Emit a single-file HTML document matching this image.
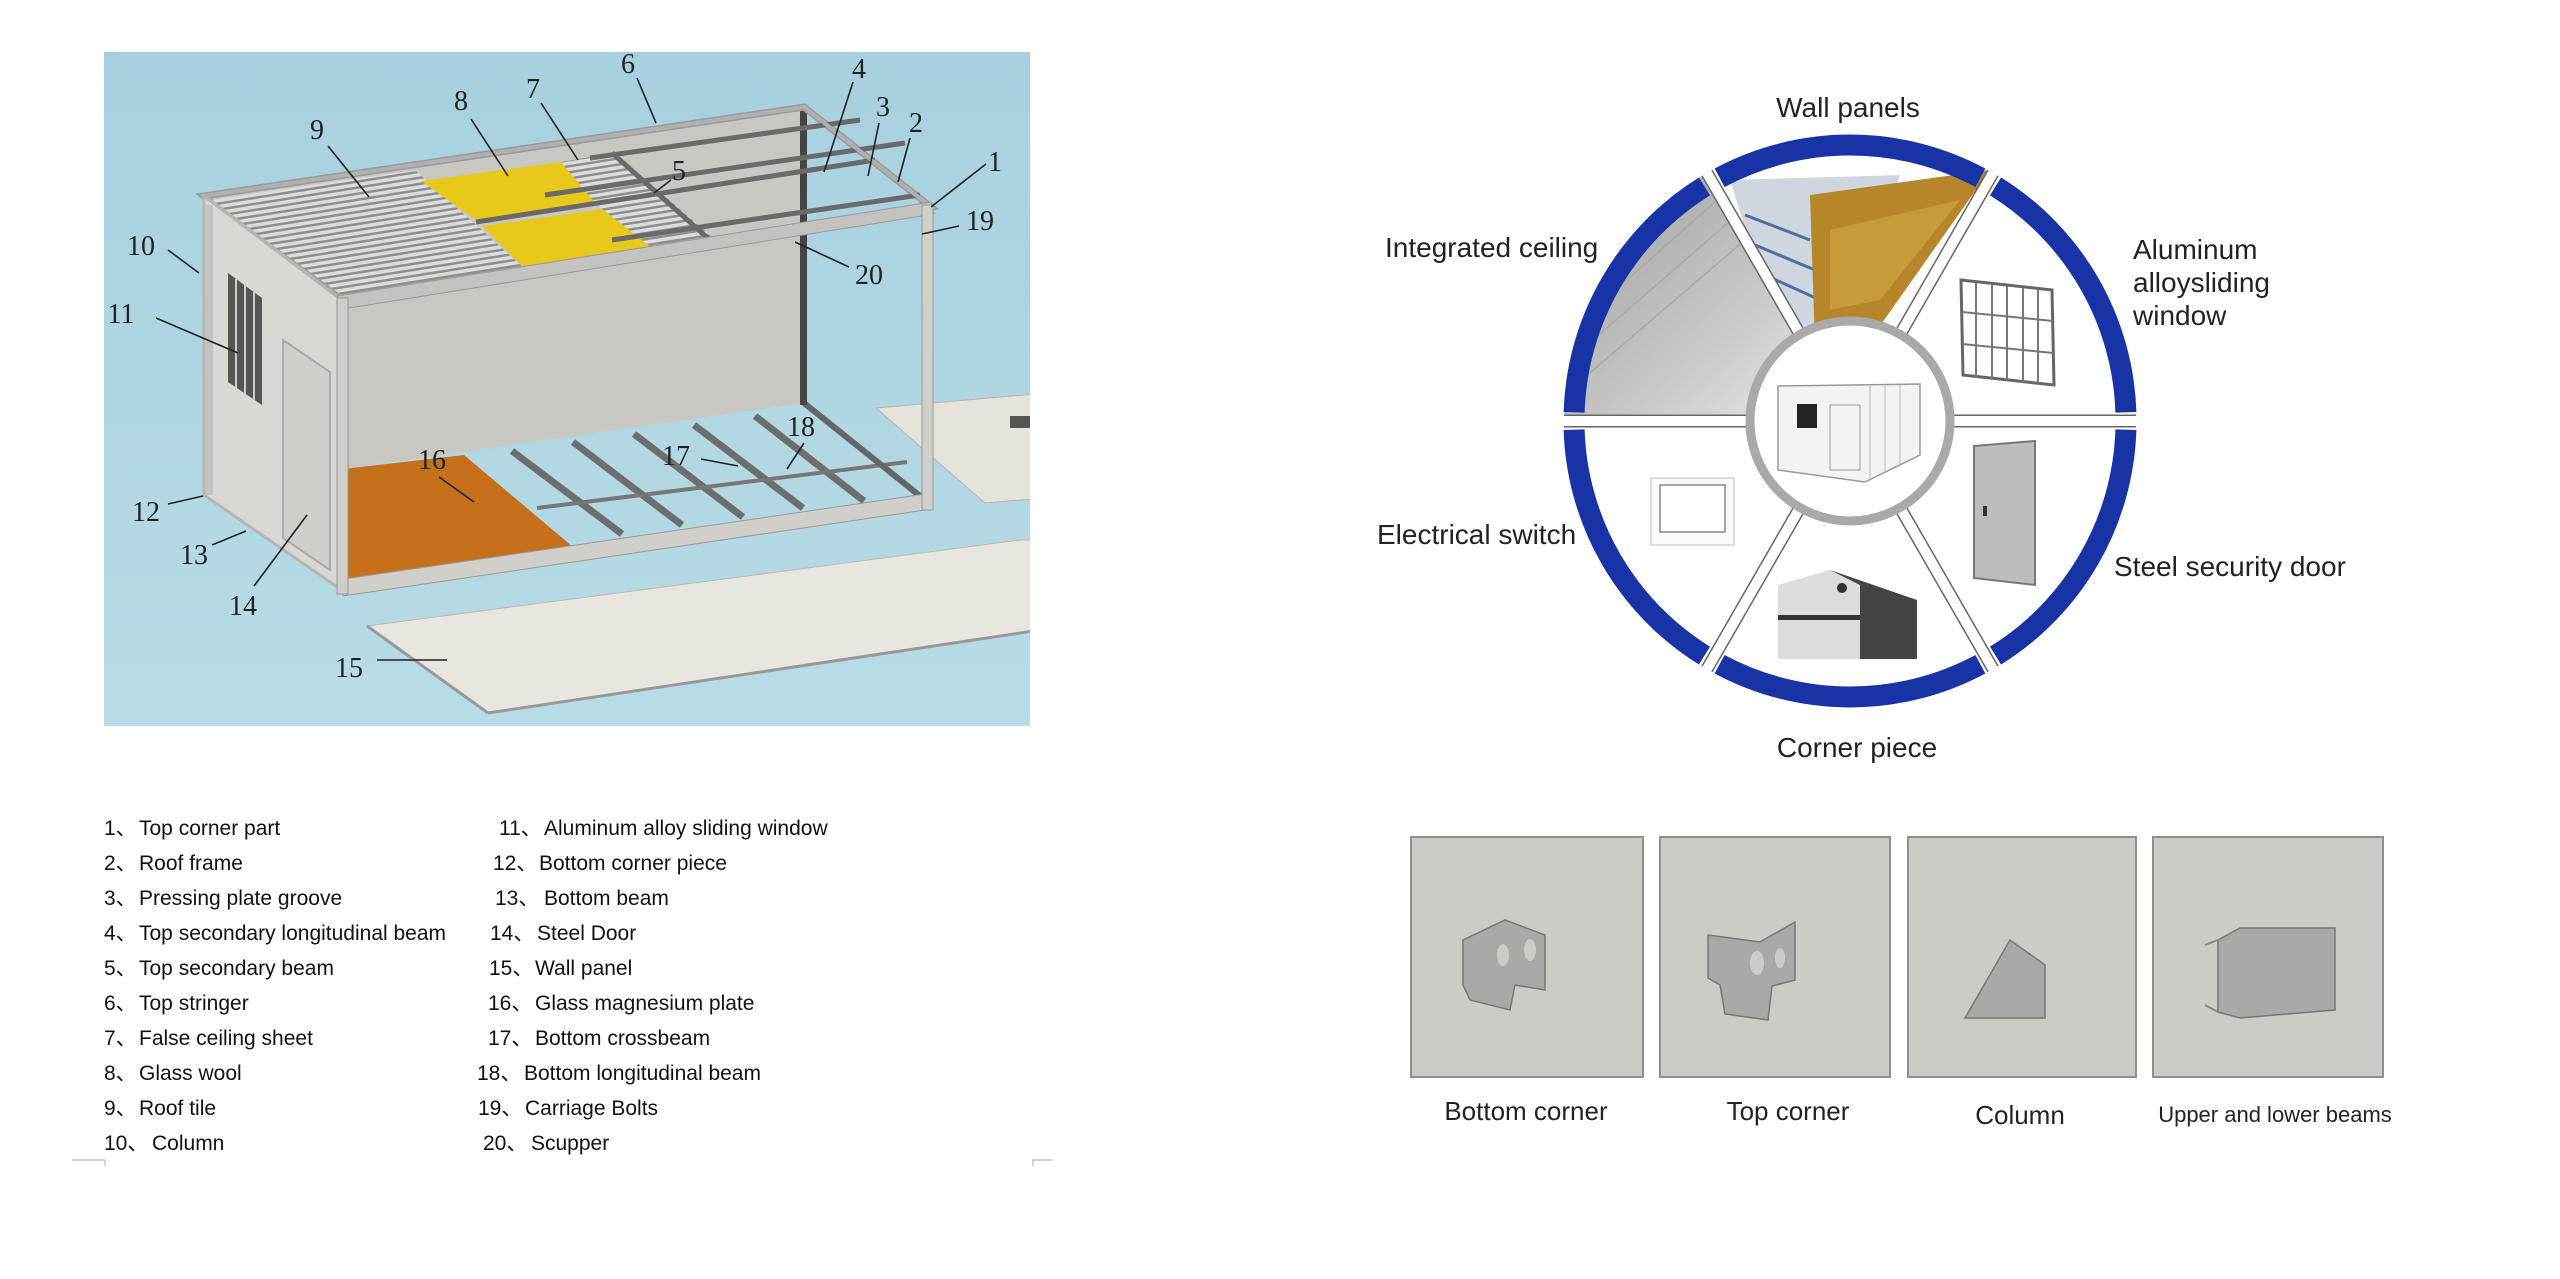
<!DOCTYPE html>
<html><head><meta charset="utf-8"><style>
html,body{margin:0;padding:0;background:#fff;}
svg{display:block}
.lg{font-family:"Liberation Sans","Noto Sans CJK SC",sans-serif;font-size:21px;fill:#111}
.num{font-family:"Liberation Serif",serif;font-size:28px;fill:#222}
.rl{font-family:"Liberation Sans",sans-serif;font-size:28px;fill:#222}
</style></head><body>
<svg width="2560" height="1279" viewBox="0 0 2560 1279" xmlns="http://www.w3.org/2000/svg">
<defs>
<linearGradient id="bg" x1="0" y1="0" x2="0" y2="1"><stop offset="0" stop-color="#a7d0df"/><stop offset="1" stop-color="#b9dce6"/></linearGradient>
<linearGradient id="ceil" x1="0" y1="0" x2="1" y2="1"><stop offset="0" stop-color="#9a9a9a"/><stop offset="0.6" stop-color="#c9c9c9"/><stop offset="1" stop-color="#efefef"/></linearGradient>
<pattern id="corr" width="6" height="6" patternUnits="userSpaceOnUse" patternTransform="rotate(-9)"><rect width="6" height="6" fill="#dcdcdc"/><rect width="6" height="2.5" fill="#8f8f8f"/></pattern>
<clipPath id="photo"><rect x="104" y="52" width="926" height="674"/></clipPath>
</defs>

<!-- LEFT PHOTO -->
<rect x="104" y="52" width="926" height="674" fill="url(#bg)"/>
<g clip-path="url(#photo)">
 <polygon points="876,408 1034,394 1034,499 985,503" fill="#e6e3da" stroke="#b8b5ad"/>
 <rect x="1010" y="416" width="24" height="12" fill="#555"/>
 <polygon points="367,626 1020,540 1040,540 1040,630 488,713" fill="#e8e6de" stroke="#bdbab2"/>
 <line x1="367" y1="626" x2="488" y2="713" stroke="#999" stroke-width="3"/>
 <line x1="488" y1="713" x2="1040" y2="630" stroke="#999" stroke-width="3"/>
</g>
<polygon points="204,196 804,107 804,403 343,469 343,301" fill="#c9c7c1"/>
<polygon points="464,455 804,403 925,500 573,547" fill="#b4d8e3"/>
<g stroke="#6e6e6e" stroke-width="7">
 <line x1="512" y1="451" x2="622" y2="534"/><line x1="573" y1="442" x2="682" y2="525"/>
 <line x1="634" y1="434" x2="743" y2="517"/><line x1="694" y1="425" x2="803" y2="508"/>
 <line x1="755" y1="416" x2="864" y2="501"/>
</g>
<line x1="537" y1="508" x2="907" y2="462" stroke="#777" stroke-width="4"/>
<line x1="804" y1="403" x2="925" y2="500" stroke="#666" stroke-width="6"/>
<polygon points="343,469 464,455 573,547 343,585" fill="#c7701c"/>
<rect x="800" y="107" width="7" height="298" fill="#444"/>
<polygon points="204,196 804,107 931,207 343,301" fill="none" stroke="#9a9a9a" stroke-width="7"/>
<polygon points="210,200 415,170 524,268 343,296" fill="url(#corr)"/>
<polygon points="421,181 561,162 597,205 476,220" fill="#e8c81a"/>
<polygon points="482,226 603,209 652,248 524,268" fill="#e8c81a"/>
<polygon points="561,162 615,153 712,237 652,248 597,205" fill="url(#corr)"/>
<g stroke="#6a6a6a" stroke-width="5">
 <line x1="476" y1="222" x2="875" y2="160"/>
 <line x1="545" y1="195" x2="905" y2="143"/>
 <line x1="612" y1="240" x2="920" y2="195"/>
 <line x1="590" y1="158" x2="860" y2="120"/>
 <line x1="612" y1="153" x2="710" y2="240"/>
</g>
<polygon points="204,196 804,107 931,207 343,301" fill="none" stroke="#b0b0b0" stroke-width="4"/>
<polygon points="204,196 343,301 343,591 204,495" fill="#d9d8d3" stroke="#b5b5b5" stroke-width="3"/>
<rect x="205" y="205" width="8" height="290" fill="#c3c3c0"/>
<polygon points="228,273 262,298 262,405 228,382" fill="#555"/>
<g stroke="#ccc" stroke-width="2"><line x1="236" y1="279" x2="236" y2="388"/><line x1="245" y1="285" x2="245" y2="394"/><line x1="254" y1="292" x2="254" y2="400"/></g>
<polygon points="283,340 330,372 330,570 283,538" fill="#d0cfca" stroke="#aaa" stroke-width="2"/>
<polygon points="337,296 931,202 934,214 343,309" fill="#c4c3bf" stroke="#999"/>
<polygon points="337,580 925,494 925,510 343,596" fill="#d0cfca" stroke="#999"/>
<rect x="337" y="298" width="11" height="296" fill="#cfcdc8" stroke="#999"/>
<rect x="922" y="205" width="11" height="305" fill="#d0cfca" stroke="#999"/>
<g stroke="#222" stroke-width="1.6">
<line x1="637" y1="78" x2="656" y2="123"/><line x1="853" y1="82" x2="824" y2="172"/>
<line x1="879" y1="123" x2="868" y2="176"/><line x1="910" y1="138" x2="898" y2="182"/>
<line x1="986" y1="164" x2="931" y2="207"/><line x1="959" y1="226" x2="922" y2="234"/>
<line x1="849" y1="267" x2="795" y2="242"/><line x1="671" y1="180" x2="654" y2="193"/>
<line x1="541" y1="103" x2="578" y2="160"/><line x1="471" y1="119" x2="508" y2="176"/>
<line x1="328" y1="146" x2="369" y2="197"/><line x1="168" y1="250" x2="199" y2="273"/>
<line x1="156" y1="318" x2="238" y2="353"/><line x1="168" y1="504" x2="203" y2="496"/>
<line x1="212" y1="545" x2="246" y2="531"/><line x1="254" y1="586" x2="307" y2="515"/>
<line x1="377" y1="660" x2="447" y2="660"/><line x1="439" y1="477" x2="474" y2="502"/>
<line x1="701" y1="459" x2="738" y2="466"/><line x1="804" y1="443" x2="787" y2="469"/>
</g>
<g class="num" text-anchor="middle">
<text x="628" y="73">6</text><text x="859" y="78">4</text><text x="883" y="116">3</text><text x="916" y="132">2</text>
<text x="995" y="171">1</text><text x="980" y="230">19</text><text x="869" y="284">20</text><text x="679" y="180">5</text>
<text x="533" y="98">7</text><text x="461" y="110">8</text><text x="317" y="139">9</text><text x="141" y="255">10</text>
<text x="121" y="323">11</text><text x="146" y="521">12</text><text x="194" y="564">13</text><text x="243" y="615">14</text>
<text x="349" y="677">15</text><text x="432" y="469">16</text><text x="676" y="465">17</text><text x="801" y="436">18</text>
</g>

<g class="lg">
<text x="104" y="835">1、</text><text x="139" y="835">Top corner part</text>
<text x="104" y="870">2、</text><text x="139" y="870">Roof frame</text>
<text x="104" y="905">3、</text><text x="139" y="905">Pressing plate groove</text>
<text x="104" y="940">4、</text><text x="139" y="940">Top secondary longitudinal beam</text>
<text x="104" y="975">5、</text><text x="139" y="975">Top secondary beam</text>
<text x="104" y="1010">6、</text><text x="139" y="1010">Top stringer</text>
<text x="104" y="1045">7、</text><text x="139" y="1045">False ceiling sheet</text>
<text x="104" y="1080">8、</text><text x="139" y="1080">Glass wool</text>
<text x="104" y="1115">9、</text><text x="139" y="1115">Roof tile</text>
<text x="104" y="1150">10、</text><text x="152" y="1150">Column</text>
<text x="499" y="835">11、</text><text x="544" y="835">Aluminum alloy sliding window</text>
<text x="493" y="870">12、</text><text x="539" y="870">Bottom corner piece</text>
<text x="495" y="905">13、</text><text x="544" y="905">Bottom beam</text>
<text x="490" y="940">14、</text><text x="537" y="940">Steel Door</text>
<text x="489" y="975">15、</text><text x="535" y="975">Wall panel</text>
<text x="488" y="1010">16、</text><text x="535" y="1010">Glass magnesium plate</text>
<text x="488" y="1045">17、</text><text x="535" y="1045">Bottom crossbeam</text>
<text x="477" y="1080">18、</text><text x="524" y="1080">Bottom longitudinal beam</text>
<text x="478" y="1115">19、</text><text x="525" y="1115">Carriage Bolts</text>
<text x="483" y="1150">20、</text><text x="531" y="1150">Scupper</text>
</g>
<g stroke="#bbb" stroke-width="1.2" fill="none">
<polyline points="72,1160 105,1160 105,1166"/><polyline points="1033,1166 1033,1160 1053,1160"/>
</g>

<defs>
<clipPath id="sUL"><path d="M1850,421 L1564,421 A286,286 0 0 1 1707,173 Z"/></clipPath>
<clipPath id="sT"><path d="M1850,421 L1707,173 A286,286 0 0 1 1993,173 Z"/></clipPath>
</defs>
<g clip-path="url(#sUL)">
 <rect x="1564" y="150" width="290" height="275" fill="url(#ceil)"/>
 <g stroke="#aaa" stroke-width="1.5">
  <line x1="1570" y1="300" x2="1720" y2="170"/><line x1="1570" y1="330" x2="1740" y2="180"/>
  <line x1="1570" y1="360" x2="1760" y2="195"/><line x1="1570" y1="390" x2="1780" y2="210"/>
 </g>
</g>
<g clip-path="url(#sT)">
 <rect x="1700" y="140" width="300" height="285" fill="#fff"/>
 <polygon points="1730,180 1900,175 1850,330 1780,340" fill="#cfd6df"/>
 <g stroke="#4a6fa0" stroke-width="3"><line x1="1745" y1="215" x2="1810" y2="240"/><line x1="1755" y1="245" x2="1815" y2="270"/><line x1="1765" y1="275" x2="1820" y2="300"/></g>
 <polygon points="1810,195 1990,170 1870,340 1815,345" fill="#b8862a"/>
 <polygon points="1830,230 1960,200 1880,300 1830,310" fill="#c79a3a"/>
</g>
<g>
 <polygon points="1961,280 2052,290 2054,385 1963,375" fill="#fff" stroke="#666" stroke-width="3"/>
 <g stroke="#777" stroke-width="2"><line x1="1976" y1="283" x2="1976" y2="378"/><line x1="1992" y1="285" x2="1992" y2="380"/><line x1="2007" y1="286" x2="2007" y2="381"/><line x1="2023" y1="288" x2="2023" y2="383"/><line x1="2038" y1="289" x2="2038" y2="384"/><line x1="1962" y1="312" x2="2053" y2="321"/><line x1="1962" y1="344" x2="2053" y2="353"/></g>
 <polygon points="1974,446 2035,441 2035,585 1974,578" fill="#bdbdbd" stroke="#777" stroke-width="2"/>
 <rect x="1983" y="506" width="4" height="10" fill="#333"/>
 <rect x="1651" y="478" width="83" height="67" fill="#fafafa" stroke="#ddd" stroke-width="2"/>
 <rect x="1660" y="485" width="65" height="47" fill="#fff" stroke="#888" stroke-width="1.5"/>
 <polygon points="1778,585 1830,570 1917,600 1917,659 1778,659" fill="#dcdcdc"/>
 <polygon points="1830,570 1917,600 1917,659 1860,659 1860,585" fill="#444"/>
 <rect x="1778" y="615" width="82" height="5" fill="#333"/>
 <circle cx="1842" cy="588" r="5" fill="#333"/>
</g>
<g stroke="#666" stroke-width="13">
 <line x1="1954" y1="421" x2="2136" y2="421"/><line x1="1746" y1="421" x2="1564" y2="421"/>
 <line x1="1902" y1="511" x2="1993" y2="669"/><line x1="1798" y1="511" x2="1707" y2="669"/>
 <line x1="1902" y1="331" x2="1993" y2="173"/><line x1="1798" y1="331" x2="1707" y2="173"/>
</g>
<g stroke="#fff" stroke-width="10">
 <line x1="1954" y1="421" x2="2136" y2="421"/><line x1="1746" y1="421" x2="1564" y2="421"/>
 <line x1="1902" y1="511" x2="1993" y2="669"/><line x1="1798" y1="511" x2="1707" y2="669"/>
 <line x1="1902" y1="331" x2="1993" y2="173"/><line x1="1798" y1="331" x2="1707" y2="173"/>
</g>
<g fill="none" stroke="#1733a6" stroke-width="21">
<path d="M2125.9,429.7 A276,276 0 0 1 1995.5,655.6"/>
<path d="M1980.4,664.2 A276,276 0 0 1 1719.6,664.2"/>
<path d="M1704.5,655.6 A276,276 0 0 1 1574.1,429.7"/>
<path d="M1574.1,412.3 A276,276 0 0 1 1704.5,186.4"/>
<path d="M1719.6,177.8 A276,276 0 0 1 1980.4,177.8"/>
<path d="M1995.5,186.4 A276,276 0 0 1 2125.9,412.3"/>
</g>
<circle cx="1850" cy="421" r="100" fill="#fff" stroke="#a9a9a9" stroke-width="9"/>
<polygon points="1778,386 1920,384 1920,455 1865,482 1778,470" fill="#f3f3f3" stroke="#999" stroke-width="1.5"/>
<rect x="1797" y="404" width="20" height="24" fill="#222"/>
<rect x="1830" y="405" width="30" height="65" fill="none" stroke="#999"/>
<g stroke="#bbb"><line x1="1870" y1="386" x2="1870" y2="478"/><line x1="1885" y1="386" x2="1885" y2="472"/><line x1="1900" y1="385" x2="1900" y2="465"/></g>

<g class="rl">
<text x="1848" y="117" text-anchor="middle">Wall panels</text>
<text x="1385" y="257">Integrated ceiling</text>
<text x="2133" y="259">Aluminum</text>
<text x="2133" y="292">alloysliding</text>
<text x="2133" y="325">window</text>
<text x="1377" y="544">Electrical switch</text>
<text x="2114" y="576">Steel security door</text>
<text x="1857" y="757" text-anchor="middle">Corner piece</text>
</g>

<g fill="#cdcbc6" stroke="#8f8f8f" stroke-width="2">
<rect x="1411" y="837" width="232" height="240"/>
<rect x="1660" y="837" width="230" height="240"/>
<rect x="1908" y="837" width="228" height="240"/>
<rect x="2153" y="837" width="230" height="240"/>
</g>
<g fill="#a9a9a7" stroke="#777" stroke-width="1.5">
 <polygon points="1463,940 1505,920 1545,935 1545,990 1515,985 1510,1010 1470,1000 1463,985"/>
 <polygon points="1708,935 1760,942 1795,922 1795,980 1772,986 1768,1020 1725,1014 1720,985 1708,978"/>
 <polygon points="1965,1018 2010,940 2045,965 2045,1018"/>
 <polygon points="2218,940 2240,928 2335,928 2335,1010 2240,1018 2218,1012"/>
</g>
<g fill="none" stroke="#888" stroke-width="2">
 <polyline points="2218,940 2205,945"/><polyline points="2218,1012 2205,1005"/>
</g>
<g fill="#cdcbc6"><ellipse cx="1503" cy="955" rx="6" ry="11"/><ellipse cx="1530" cy="950" rx="6" ry="11"/><ellipse cx="1757" cy="963" rx="7" ry="12"/><ellipse cx="1780" cy="958" rx="5" ry="10"/></g>
<g font-family="Liberation Sans,sans-serif" fill="#222">
<text x="1526" y="1120" font-size="26" text-anchor="middle">Bottom corner</text>
<text x="1788" y="1120" font-size="26" text-anchor="middle">Top corner</text>
<text x="2020" y="1124" font-size="26" text-anchor="middle">Column</text>
<text x="2275" y="1122" font-size="22" text-anchor="middle">Upper and lower beams</text>
</g>
</svg>
</body></html>
